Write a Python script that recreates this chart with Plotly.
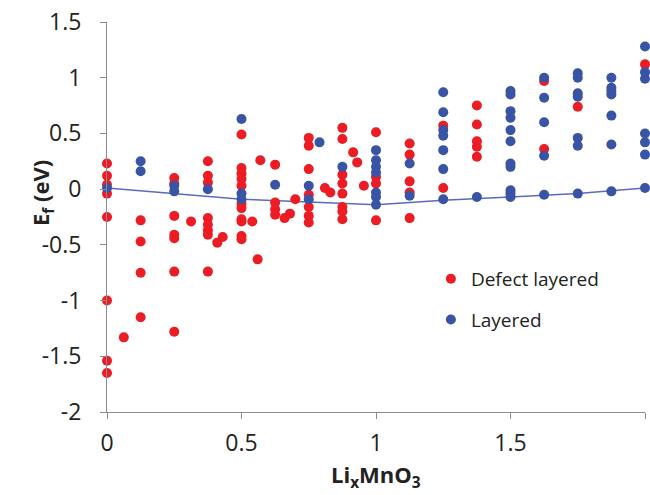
import plotly.graph_objects as go

# Defect layered (red)
defect_x = ([0]*8 + [0.0625] + [0.125]*4 + [0.25]*7 + [0.3125] + [0.375]*8 + [0.41, 0.43]
            + [0.5]*11 + [0.54, 0.56, 0.57] + [0.625]*4 + [0.66, 0.68, 0.70]
            + [0.75]*7 + [0.81, 0.83] + [0.875]*8 + [0.915, 0.93, 0.955]
            + [1.0]*4 + [1.125]*5 + [1.25]*2 + [1.375]*5 + [1.625]*2 + [1.75] + [2.0])
defect_y = ([0.23, 0.12, 0.04, -0.04, -0.25, -1.0, -1.54, -1.65]
            + [-1.33]
            + [-0.28, -0.47, -0.75, -1.15]
            + [0.1, 0.05, -0.24, -0.41, -0.44, -0.74, -1.28]
            + [-0.29]
            + [0.25, 0.12, 0.06, -0.26, -0.32, -0.37, -0.41, -0.74]
            + [-0.48, -0.43]
            + [0.49, 0.19, 0.14, 0.09, 0.03, -0.13, -0.17, -0.27, -0.29, -0.42, -0.45]
            + [-0.29, -0.63, 0.26]
            + [0.22, -0.12, -0.18, -0.23]
            + [-0.26, -0.22, -0.09]
            + [0.46, 0.39, 0.18, -0.05, -0.16, -0.24, -0.30]
            + [0.01, -0.03]
            + [0.55, 0.45, 0.13, 0.05, -0.04, -0.16, -0.20, -0.27]
            + [0.33, 0.24, 0.03]
            + [0.51, 0.11, 0.05, -0.28]
            + [0.41, 0.31, 0.07, -0.03, -0.26]
            + [0.57, 0.01]
            + [0.75, 0.58, 0.43, 0.38, 0.29]
            + [0.97, 0.36]
            + [0.74]
            + [1.12])

# Layered (blue)
layered_x = ([0] + [0.125]*2 + [0.25]*2 + [0.375] + [0.5]*3 + [0.625] + [0.75]*2 + [0.79]
             + [0.875] + [1.0]*7 + [1.125]*2 + [1.25]*7 + [1.375] + [1.5]*11
             + [1.625]*5 + [1.75]*7 + [1.875]*7 + [2.0]*7)
layered_y = ([0.01]
             + [0.25, 0.16]
             + [0.03, -0.02]
             + [0.0]
             + [0.63, -0.04, -0.09]
             + [0.04]
             + [0.03, -0.09]
             + [0.42]
             + [0.20]
             + [0.35, 0.26, 0.20, 0.15, -0.03, -0.07, -0.14]
             + [0.23, -0.06]
             + [0.87, 0.69, 0.53, 0.48, 0.35, 0.18, -0.09]
             + [-0.07]
             + [0.88, 0.85, 0.70, 0.64, 0.53, 0.43, 0.23, 0.20, -0.01, -0.04, -0.07]
             + [1.0, 0.82, 0.60, 0.30, -0.05]
             + [1.04, 1.0, 0.86, 0.83, 0.46, 0.39, -0.04]
             + [1.0, 0.91, 0.88, 0.85, 0.66, 0.40, -0.02]
             + [1.28, 1.05, 0.99, 0.50, 0.42, 0.31, 0.01])

# Convex hull line
hull_x = [0, 0.5, 1.0, 1.25, 1.5, 1.75, 2.0]
hull_y = [0.01, -0.09, -0.14, -0.10, -0.07, -0.04, 0.01]

x_ticks = [0, 0.5, 1, 1.5, 2]
x_labels = ["0", "0.5", "1", "1.5", "2"]
y_ticks = [1.5, 1, 0.5, 0, -0.5, -1, -1.5, -2]
y_labels = ["1.5", "1", "0.5", "0", "-0.5", "-1", "-1.5", "-2"]

RED = "#ec1c24"
BLUE = "#3a54a5"
LINE = "#5a6ac2"
FONT = "Open Sans"

fig = go.Figure()
fig.add_trace(go.Scatter(x=hull_x, y=hull_y, mode="lines",
                         line=dict(color=LINE, width=1.5), showlegend=False,
                         hoverinfo="skip"))
fig.add_trace(go.Scatter(x=defect_x, y=defect_y, mode="markers", name="Defect layered",
                         legendgroup="a",
                         marker=dict(color=RED, size=10, line=dict(width=0)),
                         cliponaxis=False))
fig.add_trace(go.Scatter(x=layered_x, y=layered_y, mode="markers", name="Layered",
                         legendgroup="b",
                         marker=dict(color=BLUE, size=10, line=dict(width=0)),
                         cliponaxis=False))

axis_common = dict(showline=True, linecolor="#8c8c8c", linewidth=1, ticks="outside",
                   ticklen=6, tickcolor="#8c8c8c", showgrid=False, zeroline=False,
                   tickfont=dict(family=FONT, size=23, color="#222"))

fig.update_layout(
    width=650, height=495,
    margin=dict(l=107, r=5, t=19, b=83),
    paper_bgcolor="white", plot_bgcolor="white",
    font=dict(family=FONT, color="#222"),
    xaxis=dict(range=[0, 2], tickvals=x_ticks, ticktext=x_labels,
               ticklabelstandoff=4, **axis_common),
    yaxis=dict(range=[-2, 1.5], tickvals=y_ticks, ticktext=y_labels,
               ticklabelstandoff=14, **axis_common),
    legend=dict(x=0.602, y=0.39, xanchor="left", yanchor="top",
                font=dict(family=FONT, size=19, color="#222"),
                bgcolor="rgba(0,0,0,0)", tracegroupgap=13),
    annotations=[
        dict(text="<b>Li<sub>x</sub>MnO<sub>3</sub></b>", xref="paper", yref="paper",
             x=0.5, y=0, yshift=-64, yanchor="middle", showarrow=False,
             font=dict(family=FONT, size=22, color="#222")),
        dict(text="<b>E<sub>f</sub> (eV)</b>", xref="paper", yref="paper",
             x=0, xshift=-84, y=0.5, yshift=24, showarrow=False, textangle=-90,
             font=dict(family=FONT, size=22, color="#222")),
    ],
)

fig.write_html("out.html")
